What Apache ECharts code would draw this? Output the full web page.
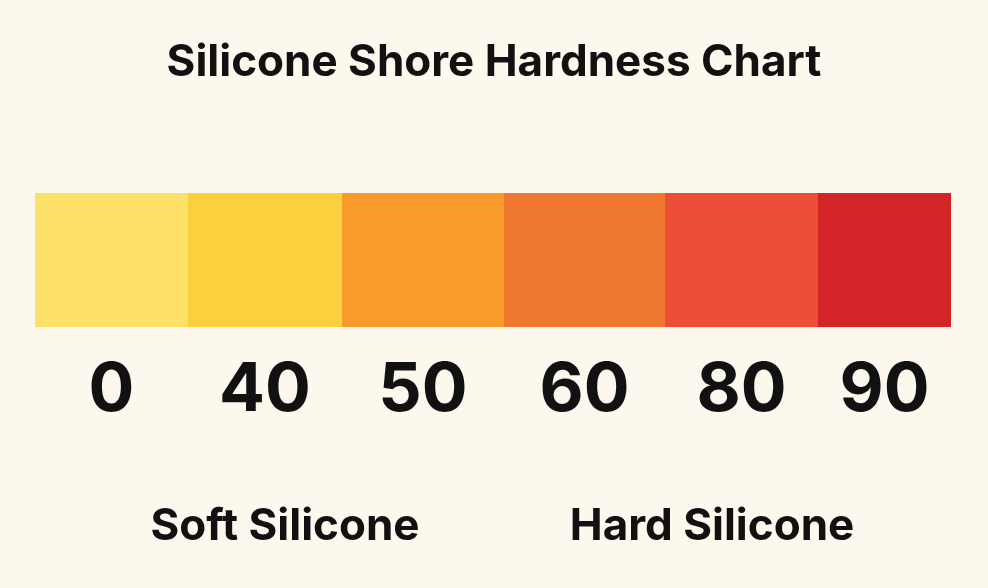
<!DOCTYPE html>
<html>
<head>
<meta charset="utf-8">
<script src="https://cdn.jsdelivr.net/npm/echarts@6/dist/echarts.min.js"></script>
<style>html,body{margin:0;background:#fcf8ee}#container{width:988px;height:588px}</style>
</head>
<body>
<div id="container"></div>
<script>
var hardness = ['0', '40', '50', '60', '80', '90'];
var segmentWidths = [153, 154, 162, 161, 153, 133];
var colors = ['#fde068', '#fbd03f', '#f89b2b', '#f07830', '#eb4d36', '#d42428'];
var zoneLabels = ['Soft Silicone', 'Hard Silicone'];

var myChart = echarts.init(document.getElementById('container'));
var font = 'Inter, "DejaVu Sans", sans-serif';

var series = hardness.map(function (h, i) {
    return {
        type: 'bar',
        stack: 'scale',
        name: h,
        data: [segmentWidths[i]],
        barWidth: '100%',
        itemStyle: { color: colors[i] },
        label: {
            show: true,
            position: 'bottom',
            distance: 30,
            formatter: h,
            fontFamily: font,
            fontWeight: 'bold',
            fontSize: 68,
            color: '#111'
        },
        silent: true
    };
});

option = {
    backgroundColor: '#fcf8ee',
    animation: false,
    title: {
        text: 'Silicone Shore Hardness Chart',
        left: 'center',
        top: 36,
        textStyle: { fontFamily: font, fontWeight: 'bold', fontSize: 44, color: '#111' }
    },
    grid: { left: 35, width: 916, top: 193, height: 134 },
    xAxis: { type: 'value', min: 0, max: 916, show: false },
    yAxis: { type: 'category', data: ['hardness'], show: false },
    series: series,
    graphic: [
        { type: 'text', x: 285, y: 527, style: { text: zoneLabels[0], align: 'center', verticalAlign: 'middle', fontFamily: font, fontWeight: 'bold', fontSize: 44, fill: '#111' } },
        { type: 'text', x: 712, y: 527, style: { text: zoneLabels[1], align: 'center', verticalAlign: 'middle', fontFamily: font, fontWeight: 'bold', fontSize: 44, fill: '#111' } }
    ]
};
myChart.setOption(option);
</script>
</body>
</html>
